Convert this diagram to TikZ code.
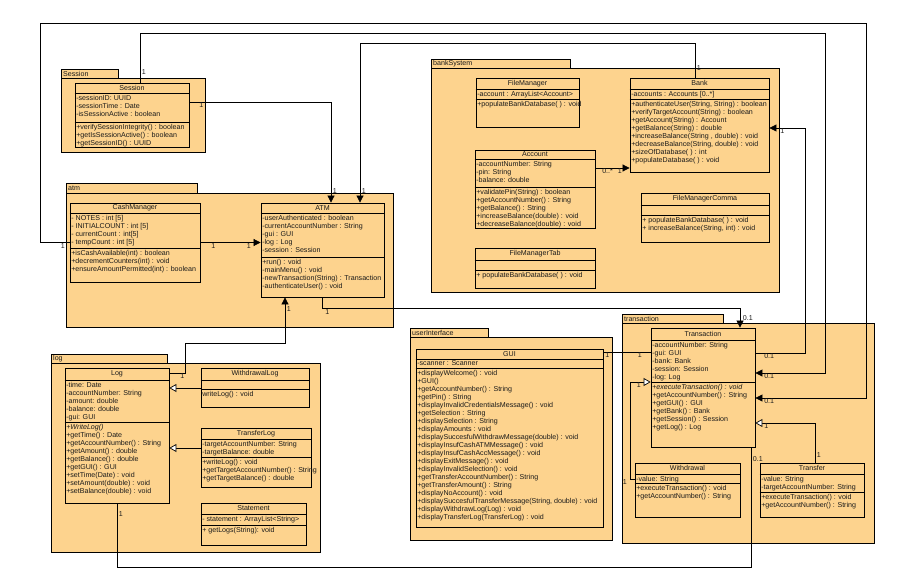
\documentclass[tikz,border=0pt]{standalone}
\usepackage{fontspec}
\setmainfont{Liberation Sans}
\usetikzlibrary{arrows.meta,positioning,fit,calc}
\definecolor{UmlFill}{HTML}{FDD38E}
\definecolor{UmlInk}{HTML}{1A1A1A}

% package: name, x, tab top, tab right, body top, body right, body bottom, label
\newcommand{\umlpackage}[8]{%
  \draw[pkgbox] (#2,#5) rectangle (#6,#7);
  \draw[pkgbox] (#2,#3) rectangle (#4,#5);
  \node[pkglabel, anchor=west] (#1) at (#2,{(#3+#5)/2}) {#8};
}
% class: name, top left, bottom right, first rule, second rule, title, attributes, operations
\newcommand{\umlclass}[8]{%
  \coordinate (#1-nw) at (#2);
  \coordinate (#1-se) at (#3);
  \node[classbox, fit=(#1-nw)(#1-se)] (#1) {};
  \draw[classline] (#1.west |- 0,#4) -- (#1.east |- 0,#4);
  \draw[classline] (#1.west |- 0,#5) -- (#1.east |- 0,#5);
  \node[classtitle] (#1-t) at ($(#1.north)!0.5!(#1.north |- 0,#4)$) {#6};
  \node[members, anchor=north west] (#1-a) at (#1.west |- 0,#4) {#7};
  \node[members, anchor=north west] (#1-o) at (#1.west |- 0,#5) {#8};
}

\begin{document}
\begin{tikzpicture}[x=1pt, y=-1pt, font=\fontsize{7.1}{8}\selectfont,
  pkgbox/.style={draw=black, fill=UmlFill, line width=0.8pt},
  pkglabel/.style={inner sep=2pt, text=UmlInk},
  classbox/.style={draw=black, fill=UmlFill, line width=0.8pt, inner sep=0pt},
  classline/.style={draw=black, line width=0.6pt},
  classtitle/.style={inner sep=0pt, text=UmlInk},
  members/.style={align=left, inner xsep=1.5pt, inner ysep=1.8pt, text=UmlInk},
  assoc/.style={draw=black, line width=0.7pt},
  navarrow/.style={assoc, -{Triangle[length=7pt,width=7pt]}},
  generalize/.style={assoc, -{Triangle[open,length=7pt,width=8pt,fill=white]}},
  mult/.style={inner sep=0.5pt, text=UmlInk}]
  \useasboundingbox[fill=white] (0,0) rectangle (909,585);

  % packages
  \umlpackage{pkgsession}{61}{69}{118}{78}{205}{152}{Session}
  \umlpackage{pkgatm}{66}{183}{197}{193}{393}{327}{atm}
  \umlpackage{pkgbank}{431}{59}{570}{68}{779}{292}{bankSystem}
  \umlpackage{pkglog}{51}{354}{167}{363}{320}{552}{log}
  \umlpackage{pkgui}{410}{328}{488}{337}{612}{540}{userInterface}
  \umlpackage{pkgtrans}{622}{314}{723}{323}{874}{543}{transaction}

  % classes
  \umlclass{session}{75,83}{189,147}{93}{122}{Session}
    {-sessionID: UUID\\-sessionTime : Date\\-isSessionActive : boolean}
    {+verifySessionIntegrity() : boolean\\+getIsSessionActive() : boolean\\+getSessionID() : UUID}
  \umlclass{cash}{70,203}{200,282}{213}{248}{CashManager}
    {- NOTES : int [5]\\- INITIALCOUNT : int [5]\\- currentCount : int[5]\\- tempCount : int [5]}
    {+isCashAvailable(int) : boolean\\+decrementCounters(int) : void\\+ensureAmountPermitted(int) : boolean}
  \umlclass{atm}{261,203}{384,297}{213}{257}{ATM}
    {-userAuthenticated : boolean\\-currentAccountNumber : String\\-gui : GUI\\-log : Log\\-session : Session}
    {+run() : void\\-mainMenu() : void\\-newTransaction(String) : Transaction\\-authenticateUser() : void}
  \umlclass{filemgr}{476,78}{579,127}{89}{99}{FileManager}
    {-account : ArrayList<Account>}
    {+populateBankDatabase( ) : void}
  \umlclass{bank}{630,78}{769,172}{89}{99}{Bank}
    {-accounts : Accounts [0..*]}
    {+authenticateUser(String, String) : boolean\\+verifyTargetAccount(String) : boolean\\+getAccount(String) : Account\\+getBalance(String) : double\\+increaseBalance(String , double) : void\\+decreaseBalance(String, double) : void\\+sizeOfDatabase( ) : int\\+populateDatabase( ) : void}
  \umlclass{account}{475,150}{595,228}{159}{187}{Account}
    {-accountNumber: String\\-pin: String\\-balance: double}
    {+validatePin(String) : boolean\\+getAccountNumber() : String\\+getBalance() : String\\+increaseBalance(double) : void\\+decreaseBalance(double) : void}
  \umlclass{fmcomma}{641,193}{769,242}{205}{215}{FileManagerComma}
    {}
    {+ populateBankDatabase( ) : void\\+ increaseBalance(String, int) : void}
  \umlclass{fmtab}{475,248}{595,288}{260}{270}{FileManagerTab}
    {}
    {+ populateBankDatabase( ) : void}
  \umlclass{log}{65,368}{169,503}{380}{422}{Log}
    {-time: Date\\-accountNumber: String\\-amount: double\\-balance: double\\-gui: GUI}
    {\textit{+WriteLog()}\\+getTime() : Date\\+getAccountNumber() : String\\+getAmount() : double\\+getBalance() : double\\+getGUI() : GUI\\+setTime(Date) : void\\+setAmount(double) : void\\+setBalance(double) : void}
  \umlclass{wlog}{201,368}{309,407}{380}{389}{WithdrawalLog}
    {}
    {writeLog() : void}
  \umlclass{tlog}{201,428}{311,487}{439}{457}{TransferLog}
    {-targetAccountNumber: String\\-targetBalance: double}
    {+writeLog() : void\\+getTargetAccountNumber() : String\\+getTargetBalance() : double}
  \umlclass{statement}{201,503}{306,545}{514}{525}{Statement}
    {- statement : ArrayList<String>}
    {+ getLogs(String): void}
  \umlclass{gui}{416,349}{603,527}{359}{368}{GUI}
    {-scanner : Scanner}
    {+displayWelcome() : void\\+GUI()\\+getAccountNumber() : String\\+getPin() : String\\+displayInvalidCredentialsMessage() : void\\+getSelection : String\\+displaySelection : String\\+displayAmounts : void\\+displaySuccesfulWithdrawMessage(double) : void\\+displayInsufCashATMMessage() : void\\+displayInsufCashAccMessage() : void\\+displayExitMessage() : void\\+displayInvalidSelection() : void\\+getTransferAccountNumber() : String\\+getTransferAmount() : String\\+displayNoAccount() : void\\+displaySuccesfulTransferMessage(String, double) : void\\+displayWithdrawLog(Log) : void\\+displayTransferLog(TransferLog) : void}
  \umlclass{trans}{651,328}{755,447}{340}{382}{Transaction}
    {-accountNumber: String\\-gui: GUI\\-bank: Bank\\-session: Session\\-log: Log}
    {+\textit{executeTransaction() : void}\\+getAccountNumber() : String\\+getGUI() : GUI\\+getBank() : Bank\\+getSession() : Session\\+getLog() : Log}
  \umlclass{withdrawal}{635,463}{740,517}{474}{483}{Withdrawal}
    {-value: String}
    {+executeTransaction() : void\\+getAccountNumber() : String}
  \umlclass{transfer}{760,463}{864,517}{474}{492}{Transfer}
    {-value: String\\-targetAccountNumber: String}
    {+executeTransaction() : void\\+getAccountNumber() : String}

  % associations
  \draw[navarrow] (cash.west) node[mult, anchor=north east, xshift=-4pt] (m1a) {1}
    -| (40,23) -- (866,23) |- ([yshift=-10.5pt]trans.east)
    node[mult, anchor=north west, xshift=8pt] (m1b) {0.1};
  \draw[navarrow] ([xshift=8pt]session.north) node[mult, anchor=south west, xshift=1pt, yshift=7pt] (m2a) {1}
    |- (825,33) |- ([yshift=14.5pt]trans.east)
    node[mult, anchor=north west, xshift=8pt] (m2b) {0.1};
  \draw[navarrow] ([yshift=13pt]session.east) node[mult, anchor=north west, xshift=9pt] (m3a) {1}
    -| ([xshift=8.5pt]atm.north)
    node[mult, anchor=south west, xshift=1pt, yshift=8pt] (m3b) {1};
  \draw[navarrow] ([xshift=-4.5pt]bank.north) node[mult, anchor=south west, xshift=1pt, yshift=6pt] (m4a) {1}
    |- (360,43) -- ([xshift=37.5pt]atm.north)
    node[mult, anchor=south west, xshift=1pt, yshift=8pt] (m4b) {1};
  \draw[navarrow] (cash.east) node[mult, anchor=north west, xshift=10pt] (m5a) {1}
    -- (cash.east -| atm.west)
    node[mult, anchor=north east, xshift=-9pt] (m5b) {1};
  \draw[navarrow] ([yshift=62.5pt]log.east) node[mult, anchor=north west, xshift=10pt] (m6a) {1}
    -| (185,343) -| ([xshift=-37.5pt]atm.south)
    node[mult, anchor=north west, xshift=1pt, yshift=-8pt] (m6b) {1};
  \draw[navarrow] (atm.south) node[mult, anchor=north west, xshift=2pt, yshift=-11pt] (m7a) {1}
    |- (740,308) -- ([xshift=37pt]trans.north)
    node[mult, anchor=south west, xshift=2pt, yshift=6pt] (m7b) {0.1};
  \draw[navarrow] ([yshift=21pt]account.east) node[mult, anchor=north west, xshift=6pt] (m8a) {0..*}
    -- ([yshift=-43pt]bank.west)
    node[mult, anchor=north east, xshift=-7pt] (m8b) {1};
  \draw[navarrow] ([yshift=34.5pt]trans.east) node[mult, anchor=north west, xshift=8pt] (m9a) {0.1}
    -| (805,128) -- ([yshift=-3pt]bank.east)
    node[mult, anchor=north west, xshift=10pt] (m9b) {1};
  \draw[assoc] ([yshift=86pt]gui.east) node[mult, anchor=north west, xshift=1pt] (m10a) {1}
    -- ([yshift=35.5pt]trans.west)
    node[mult, anchor=north east, xshift=-8pt] (m10b) {1};
  \draw[assoc] (log.south) node[mult, anchor=north west, xshift=1pt, yshift=-7pt] (m11a) {1}
    |- (751,567) -- ([xshift=48pt]trans.south)
    node[mult, anchor=north west, xshift=1pt, yshift=-8pt] (m11b) {0.1};

  % generalizations
  \draw[generalize] ([yshift=11pt]withdrawal.west) node[mult, anchor=north east, xshift=-7pt] (m12a) {1}
    -| (630,382) -- ([yshift=5.5pt]trans.west)
    node[mult, anchor=north east, xshift=-9pt] (m12b) {1};
  \draw[generalize] ([xshift=3pt]transfer.north) node[mult, anchor=south west, xshift=1pt, yshift=4pt] (m13a) {1}
    |- ([yshift=-35.5pt]trans.east)
    node[mult, anchor=north west, xshift=8pt] (m13b) {1};
  \draw[generalize] ([yshift=-0.5pt]wlog.west) -- ([yshift=47.5pt]log.east);
  \draw[generalize] ([yshift=9.5pt]tlog.west) -- ([yshift=-12.5pt]log.east);
\end{tikzpicture}
\end{document}
